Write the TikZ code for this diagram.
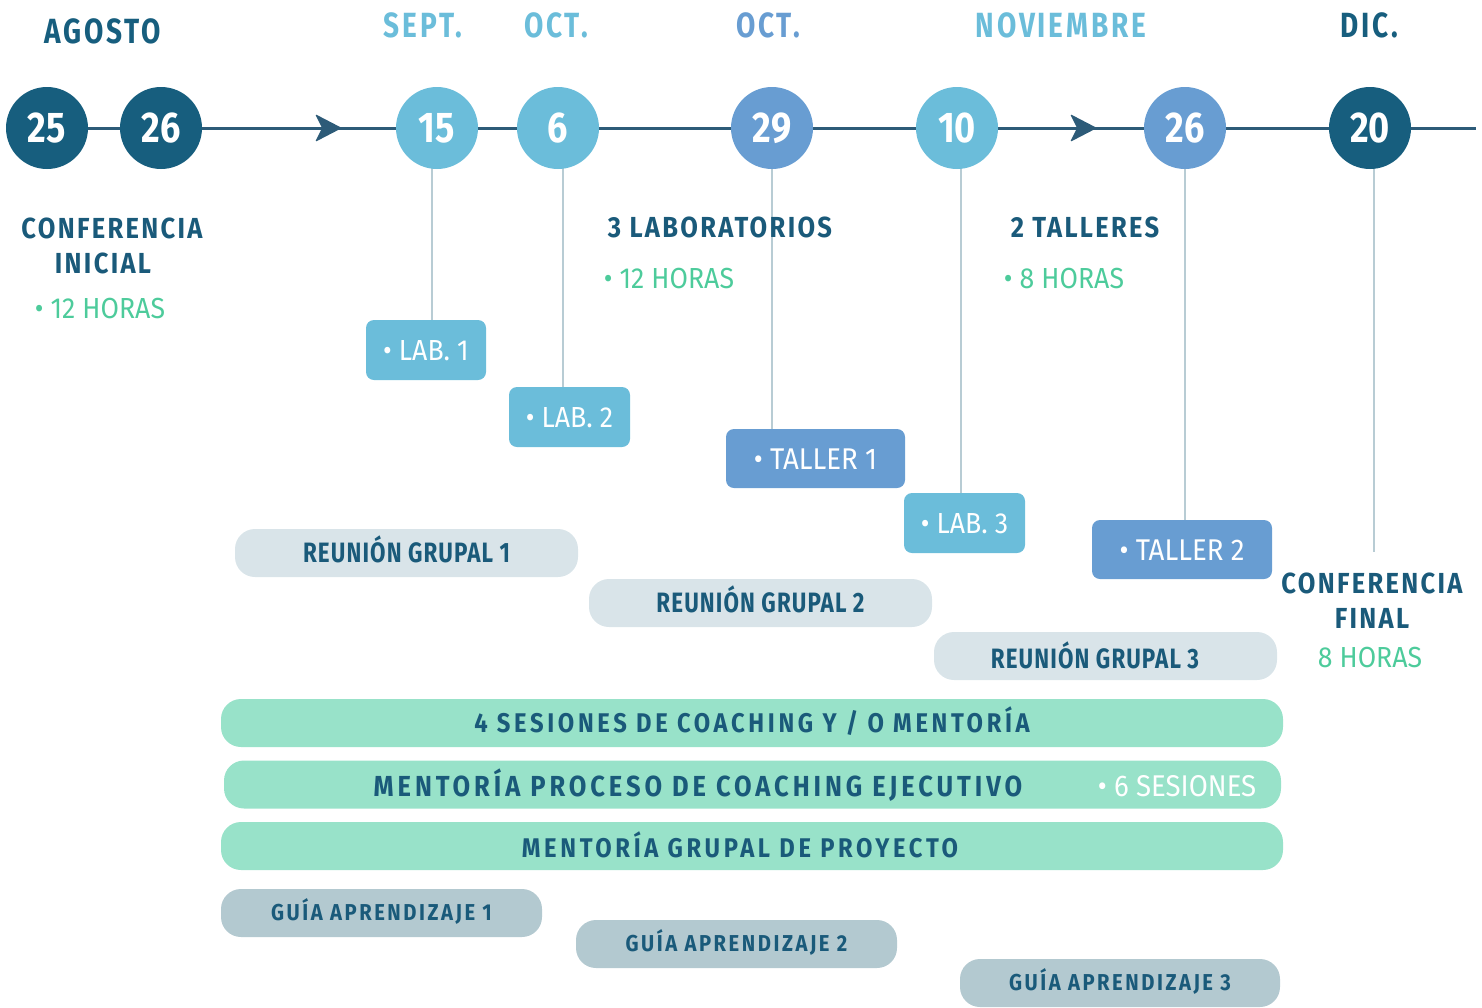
\documentclass[tikz,border=0pt]{standalone}
\usepackage{fontspec}
\usetikzlibrary{backgrounds}
\newfontfamily\monthf[FakeStretch=0.8,LetterSpace=8]{Fira Sans}
\newfontfamily\headf[FakeStretch=0.88,LetterSpace=8]{Fira Sans}
\newfontfamily\barf[FakeStretch=0.88,LetterSpace=13.5]{Fira Sans}
\newfontfamily\reunf[FakeStretch=0.8,LetterSpace=4]{Fira Sans}
\newfontfamily\guiaf[FakeStretch=0.88,LetterSpace=11]{Fira Sans}
\newfontfamily\numf[FakeStretch=0.84]{Fira Sans}
\newfontfamily\lightf[FakeStretch=0.92]{Fira Sans}
\definecolor{navy}{HTML}{175E7E}
\definecolor{tnavy}{HTML}{1A5A7A}
\definecolor{lblue}{HTML}{6BBDDA}
\definecolor{mblue}{HTML}{689DD2}
\definecolor{gtext}{HTML}{4DCB9B}
\definecolor{barg}{HTML}{98E2C9}
\definecolor{reun}{HTML}{D9E4E9}
\definecolor{guia}{HTML}{B3C9D0}
\definecolor{vcol}{HTML}{B8CCD4}
\definecolor{tlcol}{HTML}{2D5B78}
\tikzset{
  circ/.style={circle,minimum size=82pt,inner sep=0pt,text=white,font=\numf\bfseries\fontsize{43}{43}\selectfont,text height=29.5pt,text depth=0pt},
  month/.style={anchor=base,font=\monthf\bfseries\fontsize{35}{35}\selectfont},
  head/.style={anchor=base,text=tnavy,font=\headf\bfseries\fontsize{29}{29}\selectfont},
  hours/.style={anchor=base,text=gtext,font=\lightf\fontsize{29}{29}\selectfont},
  smallbox/.style={rounded corners=8pt,inner sep=0pt,text=white,font=\lightf\fontsize{29}{29}\selectfont,text height=20pt,text depth=0pt},
  pill/.style={rounded corners=20pt,inner sep=0pt,text=tnavy,text depth=0pt},
  reunbox/.style={pill,fill=reun,minimum height=48pt,minimum width=343pt,font=\reunf\bfseries\fontsize{28}{28}\selectfont,text height=19.3pt},
  barbox/.style={pill,fill=barg,minimum height=48pt,font=\barf\bfseries\fontsize{27}{27}\selectfont,text height=18.6pt},
  guiabox/.style={pill,fill=guia,minimum height=48pt,minimum width=321pt,font=\guiaf\bfseries\fontsize{23}{23}\selectfont,text height=15.9pt},
  reuntext/.style={anchor=base,text=tnavy,font=\reunf\bfseries\fontsize{28}{28}\selectfont},
  bartext/.style={anchor=base,text=tnavy,font=\barf\bfseries\fontsize{27}{27}\selectfont},
  tl/.style={draw=tlcol,line width=3pt},
  vl/.style={draw=vcol,line width=2pt},
  chev/.style={fill=tlcol,rounded corners=1.5pt},
}
\begin{document}
\begin{tikzpicture}[x=1pt,y=-1pt]
\useasboundingbox (0,0) rectangle (1482,1007);
% months
\node[month,text=navy] (mago) at (103,43) {AGOSTO};
\node[month,text=lblue] (msep) at (423,37) {SEPT.};
\node[month,text=lblue] (moct) at (556,37) {OCT.};
\node[month,text=mblue] (moct2) at (768,37) {OCT.};
\node[month,text=lblue] (mnov) at (1061,37) {NOVIEMBRE};
\node[month,text=navy] (mdic) at (1369,37) {DIC.};
% circles
\node[circ,fill=navy] (c25) at (47,128) {25};
\node[circ,fill=navy] (c26) at (161,128) {26};
\node[circ,fill=lblue] (c15) at (437,128) {15};
\node[circ,fill=lblue] (c6) at (558,128) {6};
\node[circ,fill=mblue] (c29) at (772,128) {29};
\node[circ,fill=lblue] (c10) at (957,128) {10};
\node[circ,fill=mblue] (c26b) at (1185,128) {26};
\node[circ,fill=navy] (c20) at (1370,128) {20};
\coordinate (tend) at (1476,128);
\coordinate (a1) at (342,128);
\coordinate (a2) at (1097,128);
\coordinate (e20) at (1374,552);
% boxes
\node[smallbox,fill=lblue,minimum width=120pt,minimum height=60pt] (lab1) at (426,350) {• LAB. 1};
\node[smallbox,fill=lblue,minimum width=121pt,minimum height=60pt] (lab2) at (569.5,417) {• LAB. 2};
\node[smallbox,fill=mblue,minimum width=179pt,minimum height=59pt,font=\lightf\fontsize{30}{30}\selectfont,text height=21pt] (tal1) at (815.5,458.5) {• TALLER 1};
\node[smallbox,fill=lblue,minimum width=121pt,minimum height=60pt] (lab3) at (964.5,523) {• LAB. 3};
\node[smallbox,fill=mblue,minimum width=180pt,minimum height=59pt,font=\lightf\fontsize{30}{30}\selectfont,text height=21pt] (tal2) at (1182,549.5) {• TALLER 2};
% vertical lines and timeline
\begin{scope}[on background layer]
\draw[tl] (c25.center) -- (tend);
\draw[vl] ([xshift=-5pt]c15.center) -- ([xshift=-5pt]c15.center |- lab1.north);
\draw[vl] ([xshift=5pt]c6.center) -- ([xshift=5pt]c6.center |- lab2.north);
\draw[vl] (c29.center) -- (c29.center |- tal1.north);
\draw[vl] ([xshift=4pt]c10.center) -- ([xshift=4pt]c10.center |- lab3.north);
\draw[vl] (c26b.center) -- (c26b.center |- tal2.north);
\draw[vl] ([xshift=4pt]c20.center) -- (e20);
\end{scope}
\fill[chev] (a1) -- ++(-27,-14) -- ++(7,14) -- ++(-7,14) -- cycle;
\fill[chev] (a2) -- ++(-27,-14) -- ++(7,14) -- ++(-7,14) -- cycle;
% descriptions
\node[head] (ci1) at (112,238) {CONFERENCIA};
\node[head] (ci2) at (103,273) {INICIAL};
\node[hours] (ci3) at (100,318) {• 12 HORAS};
\node[head] (lb1) at (720,237) {3 LABORATORIOS};
\node[hours] (lb2) at (669,288) {• 12 HORAS};
\node[head] (tl1) at (1085,237) {2 TALLERES};
\node[hours] (tl2) at (1064,288) {• 8 HORAS};
\node[head] (cf1) at (1372,593) {CONFERENCIA};
\node[head] (cf2) at (1372,628) {FINAL};
\node[hours] (cf3) at (1370,667) {8 HORAS};
% reuniones
\node[reunbox] (r1) at (406.5,553) {REUNIÓN GRUPAL 1};
\node[reunbox] (r2) at (760.5,603) {REUNIÓN GRUPAL 2};
\node[reunbox] (r3) at (1105.5,656) {};
\node[reuntext] (r3t) at (1095,668) {REUNIÓN GRUPAL 3};
% bars
\node[barbox,minimum width=1062pt] (b1) at (752,723) {4 SESIONES DE COACHING Y / O MENTORÍA};
\node[barbox,minimum width=1057pt] (b2) at (752.5,784.5) {};
\node[bartext,font=\barf\bfseries\fontsize{29}{29}\selectfont] (b2t) at (698,796) {MENTORÍA PROCESO DE COACHING EJECUTIVO};
\node[anchor=base,text=white,font=\lightf\fontsize{30}{30}\selectfont] (b2s) at (1177,796) {• 6 SESIONES};
\node[barbox,minimum width=1062pt] (b3) at (752,846) {};
\node[bartext] (b3t) at (740,857) {MENTORÍA GRUPAL DE PROYECTO};
% guias
\node[guiabox] (g1) at (381.5,913) {GUÍA APRENDIZAJE 1};
\node[guiabox] (g2) at (736.5,944) {GUÍA APRENDIZAJE 2};
\node[guiabox,minimum width=320pt] (g3) at (1120,983) {GUÍA APRENDIZAJE 3};
\end{tikzpicture}
\end{document}
